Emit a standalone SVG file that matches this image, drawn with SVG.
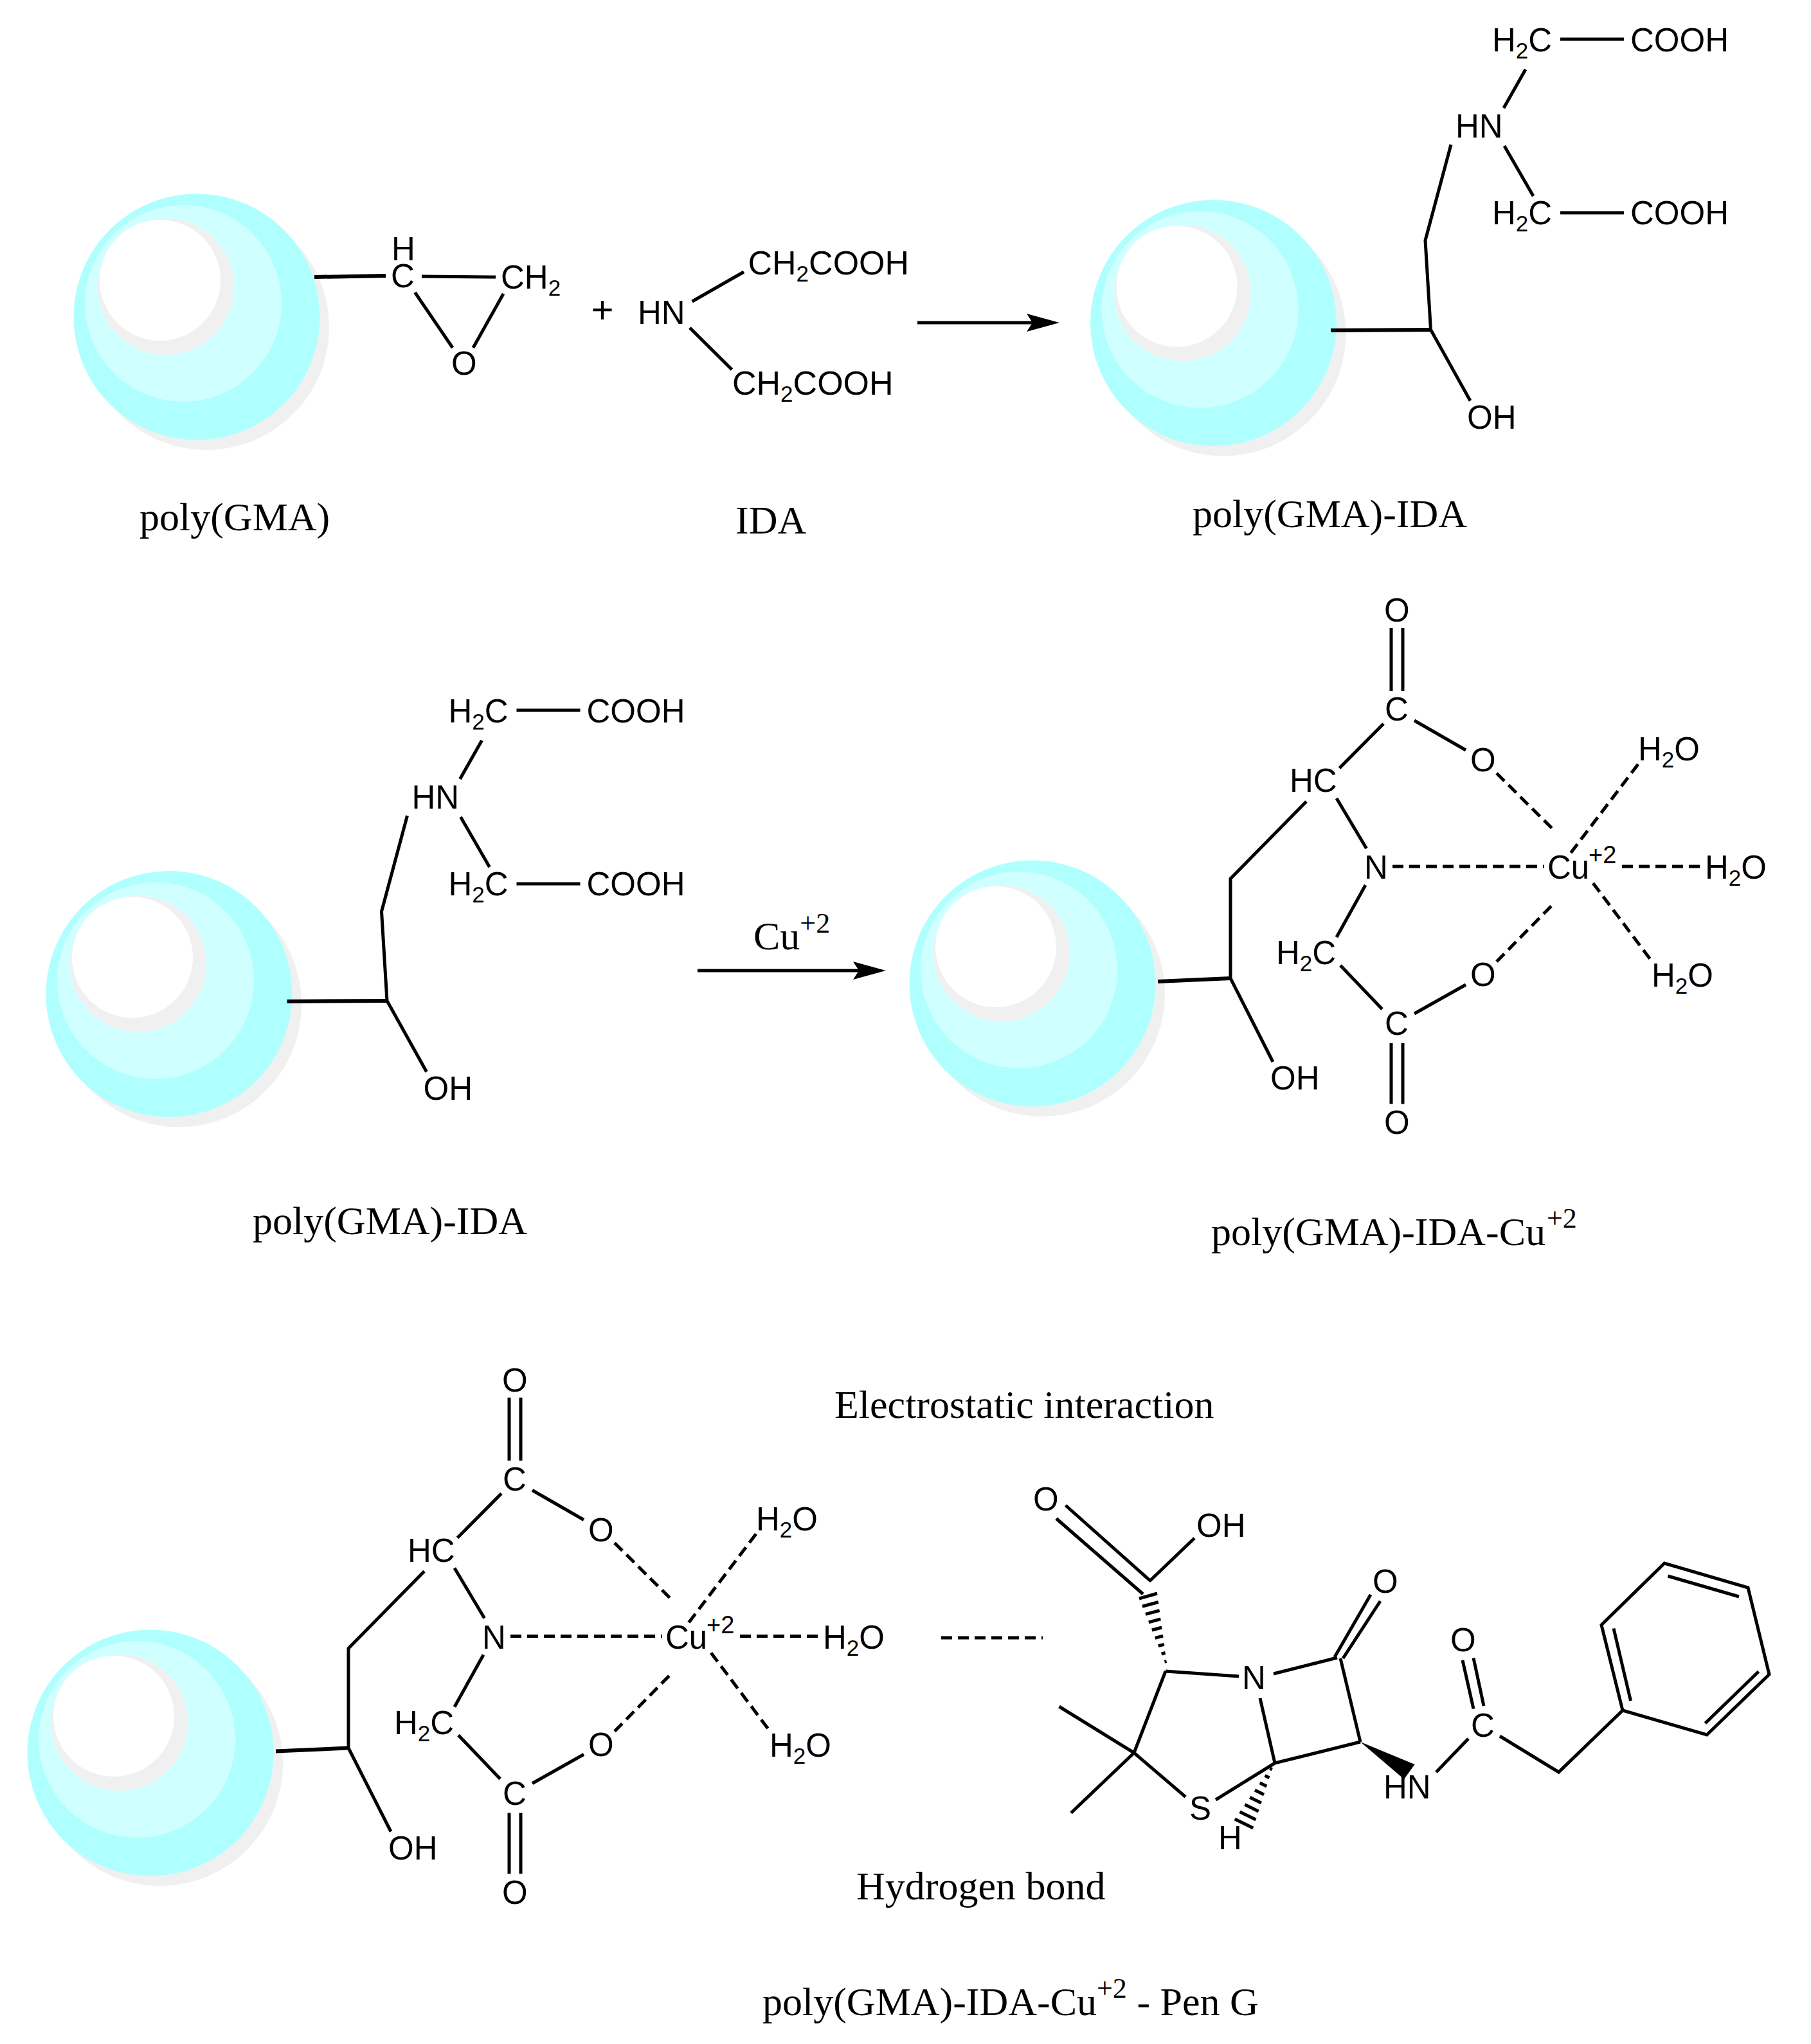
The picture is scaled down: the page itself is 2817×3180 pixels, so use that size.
<svg xmlns="http://www.w3.org/2000/svg" xmlns:xlink="http://www.w3.org/1999/xlink" width="2817" height="3180" viewBox="0 0 2817 3180">
<style>
.c{font-family:"Liberation Sans",Arial,sans-serif;font-size:51px;fill:#000}
.l{font-size:52px}
.s{font-size:35px}
.p{font-size:38px}
.plus{font-size:60px}
.t{font-family:"Liberation Serif","Times New Roman",serif;font-size:62px;fill:#000}
.ts{font-size:44px}
.b{fill:none;stroke:#000;stroke-width:5}
.bb{fill:none;stroke:#000;stroke-width:6}
.d{fill:none;stroke:#000;stroke-width:5;stroke-dasharray:17 9}
.h{fill:none;stroke:#000;stroke-width:5}
</style>
<defs>
<g id="bead">
<circle cx="15" cy="16" r="191" fill="#f0f0f0"/>
<circle r="191.5" fill="#b0ffff"/>
<circle cx="-21" cy="-21" r="153" fill="#d0ffff"/>
<circle cx="-48" cy="-47" r="106" fill="#f0f0f0"/>
<circle cx="-57" cy="-57" r="94" fill="#fff"/>
</g>
<marker id="ah" markerUnits="userSpaceOnUse" markerWidth="54" markerHeight="30" refX="31" refY="14" orient="auto"><path d="M0 0L51 14L0 28L9 14Z" fill="#000"/></marker>
</defs>
<rect width="2817" height="3180" fill="#fff"/>

<g id="bead-1"><use xlink:href="#bead" x="306" y="493"/></g>
<g id="bead-2"><use xlink:href="#bead" x="1887.5" y="502.5"/></g>
<g id="bead-3"><use xlink:href="#bead" x="263" y="1546.5"/></g>
<g id="bead-4"><use xlink:href="#bead" x="1606" y="1530"/></g>
<g id="bead-5"><use xlink:href="#bead" x="234" y="2727"/></g>

<g id="connectors">
<g id="bonds-gma">
<path class="bb" d="M489 431L600 429"/>
<path class="b" d="M656 430L771 431M645.5 455L704 541M783 457L736 541"/>
</g>
<g id="bonds-ida">
<path class="b" d="M1076.6 469L1157 423M1073 510L1138.5 575"/>
</g>
<path class="b" id="arrow-1" d="M1427 502H1628" marker-end="url(#ah)"/>
<g id="bonds-gma-ida">
<path class="bb" d="M2070 514L2225.5 513"/>
<path class="b" d="M2427 61H2526M2427 331H2526M2373 108L2339 168M2340 227L2385 305M2257 225L2217 374L2225.5 513L2287 623.5"/>
</g>
<g id="bonds-gma-ida-2" transform="translate(-1623.5 1044)">
<path class="bb" d="M2070 514L2225.5 513"/>
<path class="b" d="M2427 61H2526M2427 331H2526M2373 108L2339 168M2340 227L2385 305M2257 225L2217 374L2225.5 513L2287 623.5"/>
</g>
<path class="b" id="arrow-2" d="M1085 1510H1358" marker-end="url(#ah)"/>
<g id="bonds-cu">
<path class="bb" d="M1801 1527L1914 1522"/>
<path class="b" d="M1914 1522L1914 1367L2032 1247M2083.5 1195L2152 1126M2164 1075V977M2182 1075V977M2200 1121L2280 1167M2079 1242L2125.5 1320M2124 1377L2079 1458M2085 1502L2150 1570M2200 1577L2280 1532M2164 1623V1717.5M2182 1623V1717.5M1914 1522L1980 1652"/>
<path class="d" d="M2328 1203L2417.5 1292M2548 1189L2442.5 1328M2523 1348H2648M2166 1348H2402M2328 1496L2417.5 1405M2478 1374L2567.5 1493"/>
</g>
<g id="bonds-cu-2" transform="translate(-1372 1197.5)">
<path class="bb" d="M1801 1527L1914 1522"/>
<path class="b" d="M1914 1522L1914 1367L2032 1247M2083.5 1195L2152 1126M2164 1075V977M2182 1075V977M2200 1121L2280 1167M2079 1242L2125.5 1320M2124 1377L2079 1458M2085 1502L2150 1570M2200 1577L2280 1532M2164 1623V1717.5M2182 1623V1717.5M1914 1522L1980 1652"/>
<path class="d" d="M2328 1203L2417.5 1292M2548 1189L2442.5 1328M2523 1348H2648M2166 1348H2402M2328 1496L2417.5 1405M2478 1374L2567.5 1493"/>
</g>
<path class="d" id="electrostatic-bond" d="M1464 2548H1622"/>
<g id="bonds-peng">
<path class="b" d="M1657.5 2342L1790 2460M1643 2362.5L1778 2480M1858 2393L1788 2460M1813 2600L1927 2608M1981 2604L2080 2579M2076 2578L2132 2481M2089 2580L2147 2491M2085 2580L2116 2710M1960 2642L1983 2743L2116 2710M2234 2757L2284 2705M2275 2583L2292 2658.5M2292 2579.5L2308 2654M2333 2701L2424.5 2757L2524 2661M2524 2661L2655 2699L2752 2605L2719 2470L2589 2432L2491 2528Z M2536.5 2646L2510 2533.5M2652.5 2681L2735.5 2600.5M2594.5 2452L2705 2484M1813 2600L1764 2727L1647.5 2655M1764 2727L1666 2820.5M1764 2727L1844 2795.5M1891 2800L1983 2743"/>
<path class="h" d="M1772 2487L1800 2479M1776.9 2499.1L1801.9 2492.5M1781.9 2511.4L1803.7 2505.6M1786.8 2523.8L1805.4 2518.8M1791.8 2536L1807.2 2532M1796.7 2548.4L1809.1 2545.2M1801.7 2560.7L1810.9 2558.3M1806.6 2573.1L1812.6 2571.5M1811.5 2585.4L1814.5 2584.6"/>
<path class="h" d="M1975.2 2751.1L1978.8 2752.9M1967.5 2762.4L1974.5 2765.8M1959.7 2773.7L1970.3 2778.9M1951.9 2784.9L1966.1 2791.9M1944.1 2796.2L1961.9 2805M1936.3 2807.4L1957.7 2818M1928.5 2818.7L1953.5 2831.1M1920.7 2830L1949.3 2844"/>
<polygon points="2116,2710 2200.6,2745 2184,2768" fill="#000"/>
</g>
</g>

<g id="mol-gma-labels">
<text class="c"><tspan x="609" y="405">H</tspan><tspan x="608" y="447">C</tspan></text>
<text class="c" x="779" y="449">CH<tspan class="s" dy="11">2</tspan></text>
<text class="c" x="702" y="583">O</text>
<text class="c plus" x="919.5" y="502">+</text>
</g>
<g id="mol-ida-labels">
<text class="c" x="992" y="503.5">HN</text>
<text class="c l" x="1163.5" y="427">CH<tspan class="s" dy="11">2</tspan><tspan dy="-11">COOH</tspan></text>
<text class="c l" x="1139" y="613.5">CH<tspan class="s" dy="11">2</tspan><tspan dy="-11">COOH</tspan></text>
</g>
<g id="mol-gma-ida-labels">
<text class="c" x="2321" y="80">H<tspan class="s" dy="11">2</tspan><tspan dy="-11">C</tspan></text>
<text class="c" x="2536" y="80">COOH</text>
<text class="c" x="2264" y="214">HN</text>
<text class="c" x="2321" y="349">H<tspan class="s" dy="11">2</tspan><tspan dy="-11">C</tspan></text>
<text class="c" x="2536" y="349">COOH</text>
<text class="c" x="2282" y="667">OH</text>
</g>
<g id="mol-gma-ida-2-labels" transform="translate(-1623.5 1044)">
<text class="c" x="2321" y="80">H<tspan class="s" dy="11">2</tspan><tspan dy="-11">C</tspan></text>
<text class="c" x="2536" y="80">COOH</text>
<text class="c" x="2264" y="214">HN</text>
<text class="c" x="2321" y="349">H<tspan class="s" dy="11">2</tspan><tspan dy="-11">C</tspan></text>
<text class="c" x="2536" y="349">COOH</text>
<text class="c" x="2282" y="667">OH</text>
</g>
<g id="mol-cu-labels">
<text class="c" x="2153" y="967">O</text>
<text class="c" x="2154" y="1121">C</text>
<text class="c" x="2006" y="1232">HC</text>
<text class="c" x="2287" y="1200">O</text>
<text class="c" x="2548" y="1183">H<tspan class="s" dy="11">2</tspan><tspan dy="-11">O</tspan></text>
<text class="c" x="2407" y="1367">Cu</text>
<text class="c p" x="2471" y="1343">+2</text>
<text class="c" x="2652" y="1367">H<tspan class="s" dy="11">2</tspan><tspan dy="-11">O</tspan></text>
<text class="c" x="2122" y="1367">N</text>
<text class="c" x="1985" y="1500">H<tspan class="s" dy="11">2</tspan><tspan dy="-11">C</tspan></text>
<text class="c" x="2154" y="1610">C</text>
<text class="c" x="2287" y="1534">O</text>
<text class="c" x="2569" y="1535">H<tspan class="s" dy="11">2</tspan><tspan dy="-11">O</tspan></text>
<text class="c" x="2153" y="1764">O</text>
<text class="c" x="1976" y="1695">OH</text>
</g>
<g id="mol-cu-2-labels" transform="translate(-1372 1197.5)">
<text class="c" x="2153" y="967">O</text>
<text class="c" x="2154" y="1121">C</text>
<text class="c" x="2006" y="1232">HC</text>
<text class="c" x="2287" y="1200">O</text>
<text class="c" x="2548" y="1183">H<tspan class="s" dy="11">2</tspan><tspan dy="-11">O</tspan></text>
<text class="c" x="2407" y="1367">Cu</text>
<text class="c p" x="2471" y="1343">+2</text>
<text class="c" x="2652" y="1367">H<tspan class="s" dy="11">2</tspan><tspan dy="-11">O</tspan></text>
<text class="c" x="2122" y="1367">N</text>
<text class="c" x="1985" y="1500">H<tspan class="s" dy="11">2</tspan><tspan dy="-11">C</tspan></text>
<text class="c" x="2154" y="1610">C</text>
<text class="c" x="2287" y="1534">O</text>
<text class="c" x="2569" y="1535">H<tspan class="s" dy="11">2</tspan><tspan dy="-11">O</tspan></text>
<text class="c" x="2153" y="1764">O</text>
<text class="c" x="1976" y="1695">OH</text>
</g>
<g id="mol-peng-labels">
<text class="c" x="1607" y="2350">O</text>
<text class="c" x="1861" y="2391">OH</text>
<text class="c" x="1932" y="2628">N</text>
<text class="c" x="2135" y="2478">O</text>
<text class="c" x="2152" y="2798">HN</text>
<text class="c" x="2288" y="2702">C</text>
<text class="c" x="2256" y="2569">O</text>
<text class="c" x="1850" y="2831">S</text>
<text class="c" x="1895" y="2877">H</text>
</g>
<g id="captions">
<text class="t" x="217" y="825">poly(GMA)</text>
<text class="t" x="1144" y="830">IDA</text>
<text class="t" x="1855" y="820">poly(GMA)-IDA</text>
<text class="t" x="393" y="1920">poly(GMA)-IDA</text>
<text class="t" x="1172" y="1477">Cu<tspan class="ts" dy="-26">+2</tspan></text>
<text class="t" x="1884" y="1937">poly(GMA)-IDA-Cu<tspan class="ts" dy="-27" dx="2">+2</tspan></text>
<text class="t" x="1298" y="2206">Electrostatic interaction</text>
<text class="t" x="1332" y="2955">Hydrogen bond</text>
<text class="t" x="1186" y="3135">poly(GMA)-IDA-Cu<tspan class="ts" dy="-27">+2</tspan><tspan dy="27"> - Pen G</tspan></text>
</g>
</svg>
